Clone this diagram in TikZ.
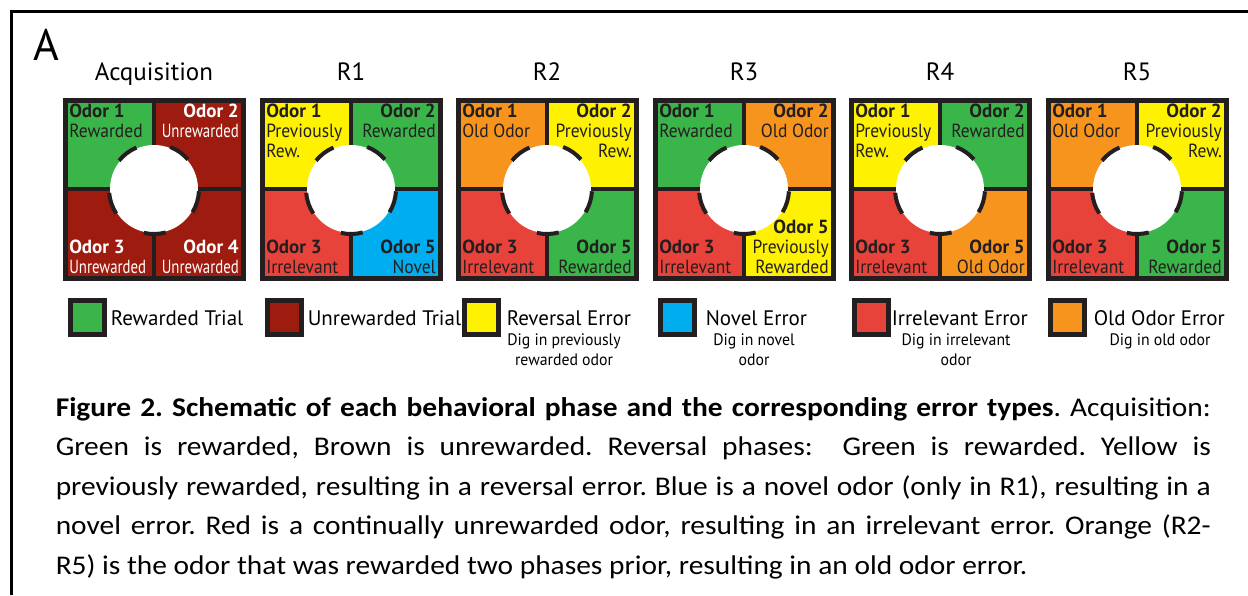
\documentclass[tikz,border=0pt]{standalone}
\usepackage{fontspec}
\setmainfont[FakeStretch=1.09]{Carlito}
\newfontfamily\titlefont{PT Sans}
\newfontfamily\notefont[FakeStretch=0.95]{PT Sans}
\newfontfamily\quadfont[FakeStretch=0.92]{PT Sans}
\newfontfamily\quadnarrow[FakeStretch=0.78]{PT Sans}
\newfontfamily\odorhead{PT Sans}
\newcommand\odor[1]{{\odorhead\bfseries Odor #1}}

\definecolor{rewgreen}{HTML}{3AB54A}
\definecolor{unrewred}{HTML}{9E1B0F}
\definecolor{revyellow}{HTML}{FFF200}
\definecolor{novblue}{HTML}{00AEEF}
\definecolor{irrred}{HTML}{E8433A}
\definecolor{oldorange}{HTML}{F7941E}
\definecolor{inkgray}{HTML}{231F20}

\tikzset{every picture/.style={line width=0.75pt}}
\tikzset{
	paneltitle/.style={anchor=base,inner sep=0pt,font=\titlefont\fontsize{12.5}{13}\selectfont},
	odorq/.style={inner sep=0.5pt,text=inkgray,font=\quadfont\fontsize{9.5}{10}\selectfont},
	odortl/.style={odorq,anchor=north west,align=left},
	odortr/.style={odorq,anchor=north east,align=right},
	odorbl/.style={odorq,anchor=south west,align=left},
	odorbr/.style={odorq,anchor=south east,align=right},
	odorwhite/.style={text=white,font=\quadnarrow\fontsize{9.5}{10}\selectfont},
	divider/.style={draw=inkgray,line width=2pt},
	hubdash/.style={draw=inkgray,line width=2pt},
	panelborder/.style={draw=inkgray,line width=2.5pt},
	keybox/.style={draw=inkgray,line width=2.5pt},
	keylabel/.style={anchor=base west,inner sep=0pt,font=\titlefont\fontsize{10.5}{12}\selectfont},
	keynote/.style={anchor=north,align=center,inner sep=0pt,font=\notefont\fontsize{8.3}{10}\selectfont},
	captext/.style={anchor=base west,inner sep=0pt,text width=577.5pt,align=justify,font=\fontsize{13.5}{19.75}\selectfont}
}

% dividers, hub, dashes and border of one panel (left edge #1)
\newcommand\hubframe[1]{%
	\draw[divider] (#1+89,100) -- (#1+89,278);
	\draw[divider] (#1,189) -- (#1+178,189);
	\fill[white] (#1+89,189) circle (44);
	\foreach \a in {55,127,199,271,343}
		\draw[hubdash] (#1+89,189) ++({14-\a}:45) arc[start angle={14-\a},end angle={-14-\a},radius=45];
	\draw[panelborder] (#1,100) rectangle (#1+178,278);
}

\begin{document}
\frenchspacing
\begin{tikzpicture}[x=0.5pt,y=-0.5pt]
	\useasboundingbox (0,0) rectangle (1248,595);
	%Khung ngoai
	\draw[line width=1.3pt] (11.5,595) -- (11.5,11.5) -- (1248,11.5);
	\node[anchor=base west,inner sep=0pt,font=\titlefont\fontsize{22}{22}\selectfont] (lblA) at (33,60) {A};
	%Acquisition
	\node[paneltitle] (tacq) at (154,80) {Acquisition};
	\fill[rewgreen] (65,100) rectangle (154,189);
	\fill[unrewred] (154,100) rectangle (243,189);
	\fill[unrewred] (65,189) rectangle (154,278);
	\fill[unrewred] (154,189) rectangle (243,278);
	\hubframe{65}
	\node[odortl] (acq1) at (67.5,102.5) {\odor{1}\\Rewarded};
	\node[odortr,odorwhite] (acq2) at (240.5,102.5) {\odor{2}\\Unrewarded};
	\node[odorbl,odorwhite] (acq3) at (67.5,275.5) {\odor{3}\\Unrewarded};
	\node[odorbr,odorwhite] (acq4) at (240.5,275.5) {\odor{4}\\Unrewarded};
	%R1
	\node[paneltitle] (tr1) at (351,80) {R1};
	\fill[revyellow] (262,100) rectangle (351,189);
	\fill[rewgreen] (351,100) rectangle (440,189);
	\fill[irrred] (262,189) rectangle (351,278);
	\fill[novblue] (351,189) rectangle (440,278);
	\hubframe{262}
	\node[odortl] (r1a) at (264.5,102.5) {\odor{1}\\Previously\\Rew.};
	\node[odortr] (r1b) at (437.5,102.5) {\odor{2}\\Rewarded};
	\node[odorbl] (r1c) at (264.5,275.5) {\odor{3}\\Irrelevant};
	\node[odorbr] (r1d) at (437.5,275.5) {\odor{5}\\Novel};
	%R2
	\node[paneltitle] (tr2) at (547,80) {R2};
	\fill[oldorange] (458,100) rectangle (547,189);
	\fill[revyellow] (547,100) rectangle (636,189);
	\fill[irrred] (458,189) rectangle (547,278);
	\fill[rewgreen] (547,189) rectangle (636,278);
	\hubframe{458}
	\node[odortl] (r2a) at (460.5,102.5) {\odor{1}\\Old Odor};
	\node[odortr] (r2b) at (633.5,102.5) {\odor{2}\\Previously\\Rew.};
	\node[odorbl] (r2c) at (460.5,275.5) {\odor{3}\\Irrelevant};
	\node[odorbr] (r2d) at (633.5,275.5) {\odor{5}\\Rewarded};
	%R3
	\node[paneltitle] (tr3) at (744,80) {R3};
	\fill[rewgreen] (655,100) rectangle (744,189);
	\fill[oldorange] (744,100) rectangle (833,189);
	\fill[irrred] (655,189) rectangle (744,278);
	\fill[revyellow] (744,189) rectangle (833,278);
	\hubframe{655}
	\node[odortl] (r3a) at (657.5,102.5) {\odor{1}\\Rewarded};
	\node[odortr] (r3b) at (830.5,102.5) {\odor{2}\\Old Odor};
	\node[odorbl] (r3c) at (657.5,275.5) {\odor{3}\\Irrelevant};
	\node[odorbr] (r3d) at (830.5,275.5) {\odor{5}\\Previously\\Rewarded};
	%R4
	\node[paneltitle] (tr4) at (940,80) {R4};
	\fill[revyellow] (851,100) rectangle (940,189);
	\fill[rewgreen] (940,100) rectangle (1029,189);
	\fill[irrred] (851,189) rectangle (940,278);
	\fill[oldorange] (940,189) rectangle (1029,278);
	\hubframe{851}
	\node[odortl] (r4a) at (853.5,102.5) {\odor{1}\\Previously\\Rew.};
	\node[odortr] (r4b) at (1026.5,102.5) {\odor{2}\\Rewarded};
	\node[odorbl] (r4c) at (853.5,275.5) {\odor{3}\\Irrelevant};
	\node[odorbr] (r4d) at (1026.5,275.5) {\odor{5}\\Old Odor};
	%R5
	\node[paneltitle] (tr5) at (1137,80) {R5};
	\fill[oldorange] (1048,100) rectangle (1137,189);
	\fill[revyellow] (1137,100) rectangle (1226,189);
	\fill[irrred] (1048,189) rectangle (1137,278);
	\fill[rewgreen] (1137,189) rectangle (1226,278);
	\hubframe{1048}
	\node[odortl] (r5a) at (1050.5,102.5) {\odor{1}\\Old Odor};
	\node[odortr] (r5b) at (1223.5,102.5) {\odor{2}\\Previously\\Rew.};
	\node[odorbl] (r5c) at (1050.5,275.5) {\odor{3}\\Irrelevant};
	\node[odorbr] (r5d) at (1223.5,275.5) {\odor{5}\\Rewarded};
	%Chu thich
	\draw[keybox,fill=rewgreen] (70.5,300.5) rectangle (104.5,334.5);
	\node[keylabel] (k1) at (110,325) {Rewarded Trial};
	\draw[keybox,fill=unrewred] (267.5,300.5) rectangle (301.5,334.5);
	\node[keylabel] (k2) at (307,325) {Unrewarded Trial};
	\draw[keybox,fill=revyellow] (464.5,300.5) rectangle (498.5,334.5);
	\node[keylabel] (k3) at (506,325) {Reversal Error};
	\node[keynote] (n3) at (564,333) {Dig in previously\\rewarded odor};
	\draw[keybox,fill=novblue] (660.5,300.5) rectangle (694.5,334.5);
	\node[keylabel] (k4) at (705,325) {Novel Error};
	\node[keynote] (n4) at (754,333) {Dig in novel\\odor};
	\draw[keybox,fill=irrred] (854.5,300.5) rectangle (888.5,334.5);
	\node[keylabel] (k5) at (891,325) {Irrelevant Error};
	\node[keynote] (n5) at (956,333) {Dig in irrelevant\\odor};
	\draw[keybox,fill=oldorange] (1050.5,300.5) rectangle (1084.5,334.5);
	\node[keylabel] (k6) at (1093,325) {Old Odor Error};
	\node[keynote] (n6) at (1160,333) {Dig in old odor};
	%Hinh 2
	\node[captext] (caption) at (55,416) {\textbf{Figure 2. Schematic of each behavioral phase and the corresponding error types}. Acquisition:\linebreak
		Green is rewarded, Brown is unrewarded. Reversal phases:\ \ Green is rewarded. Yellow is\linebreak
		previously rewarded, resulting in a reversal error. Blue is a novel odor (only in R1), resulting in a\linebreak
		novel error. Red is a continually unrewarded odor, resulting in an irrelevant error. Orange (R2-\linebreak
		R5) is the odor that was rewarded two phases prior, resulting in an old odor error.};
\end{tikzpicture}
\end{document}
